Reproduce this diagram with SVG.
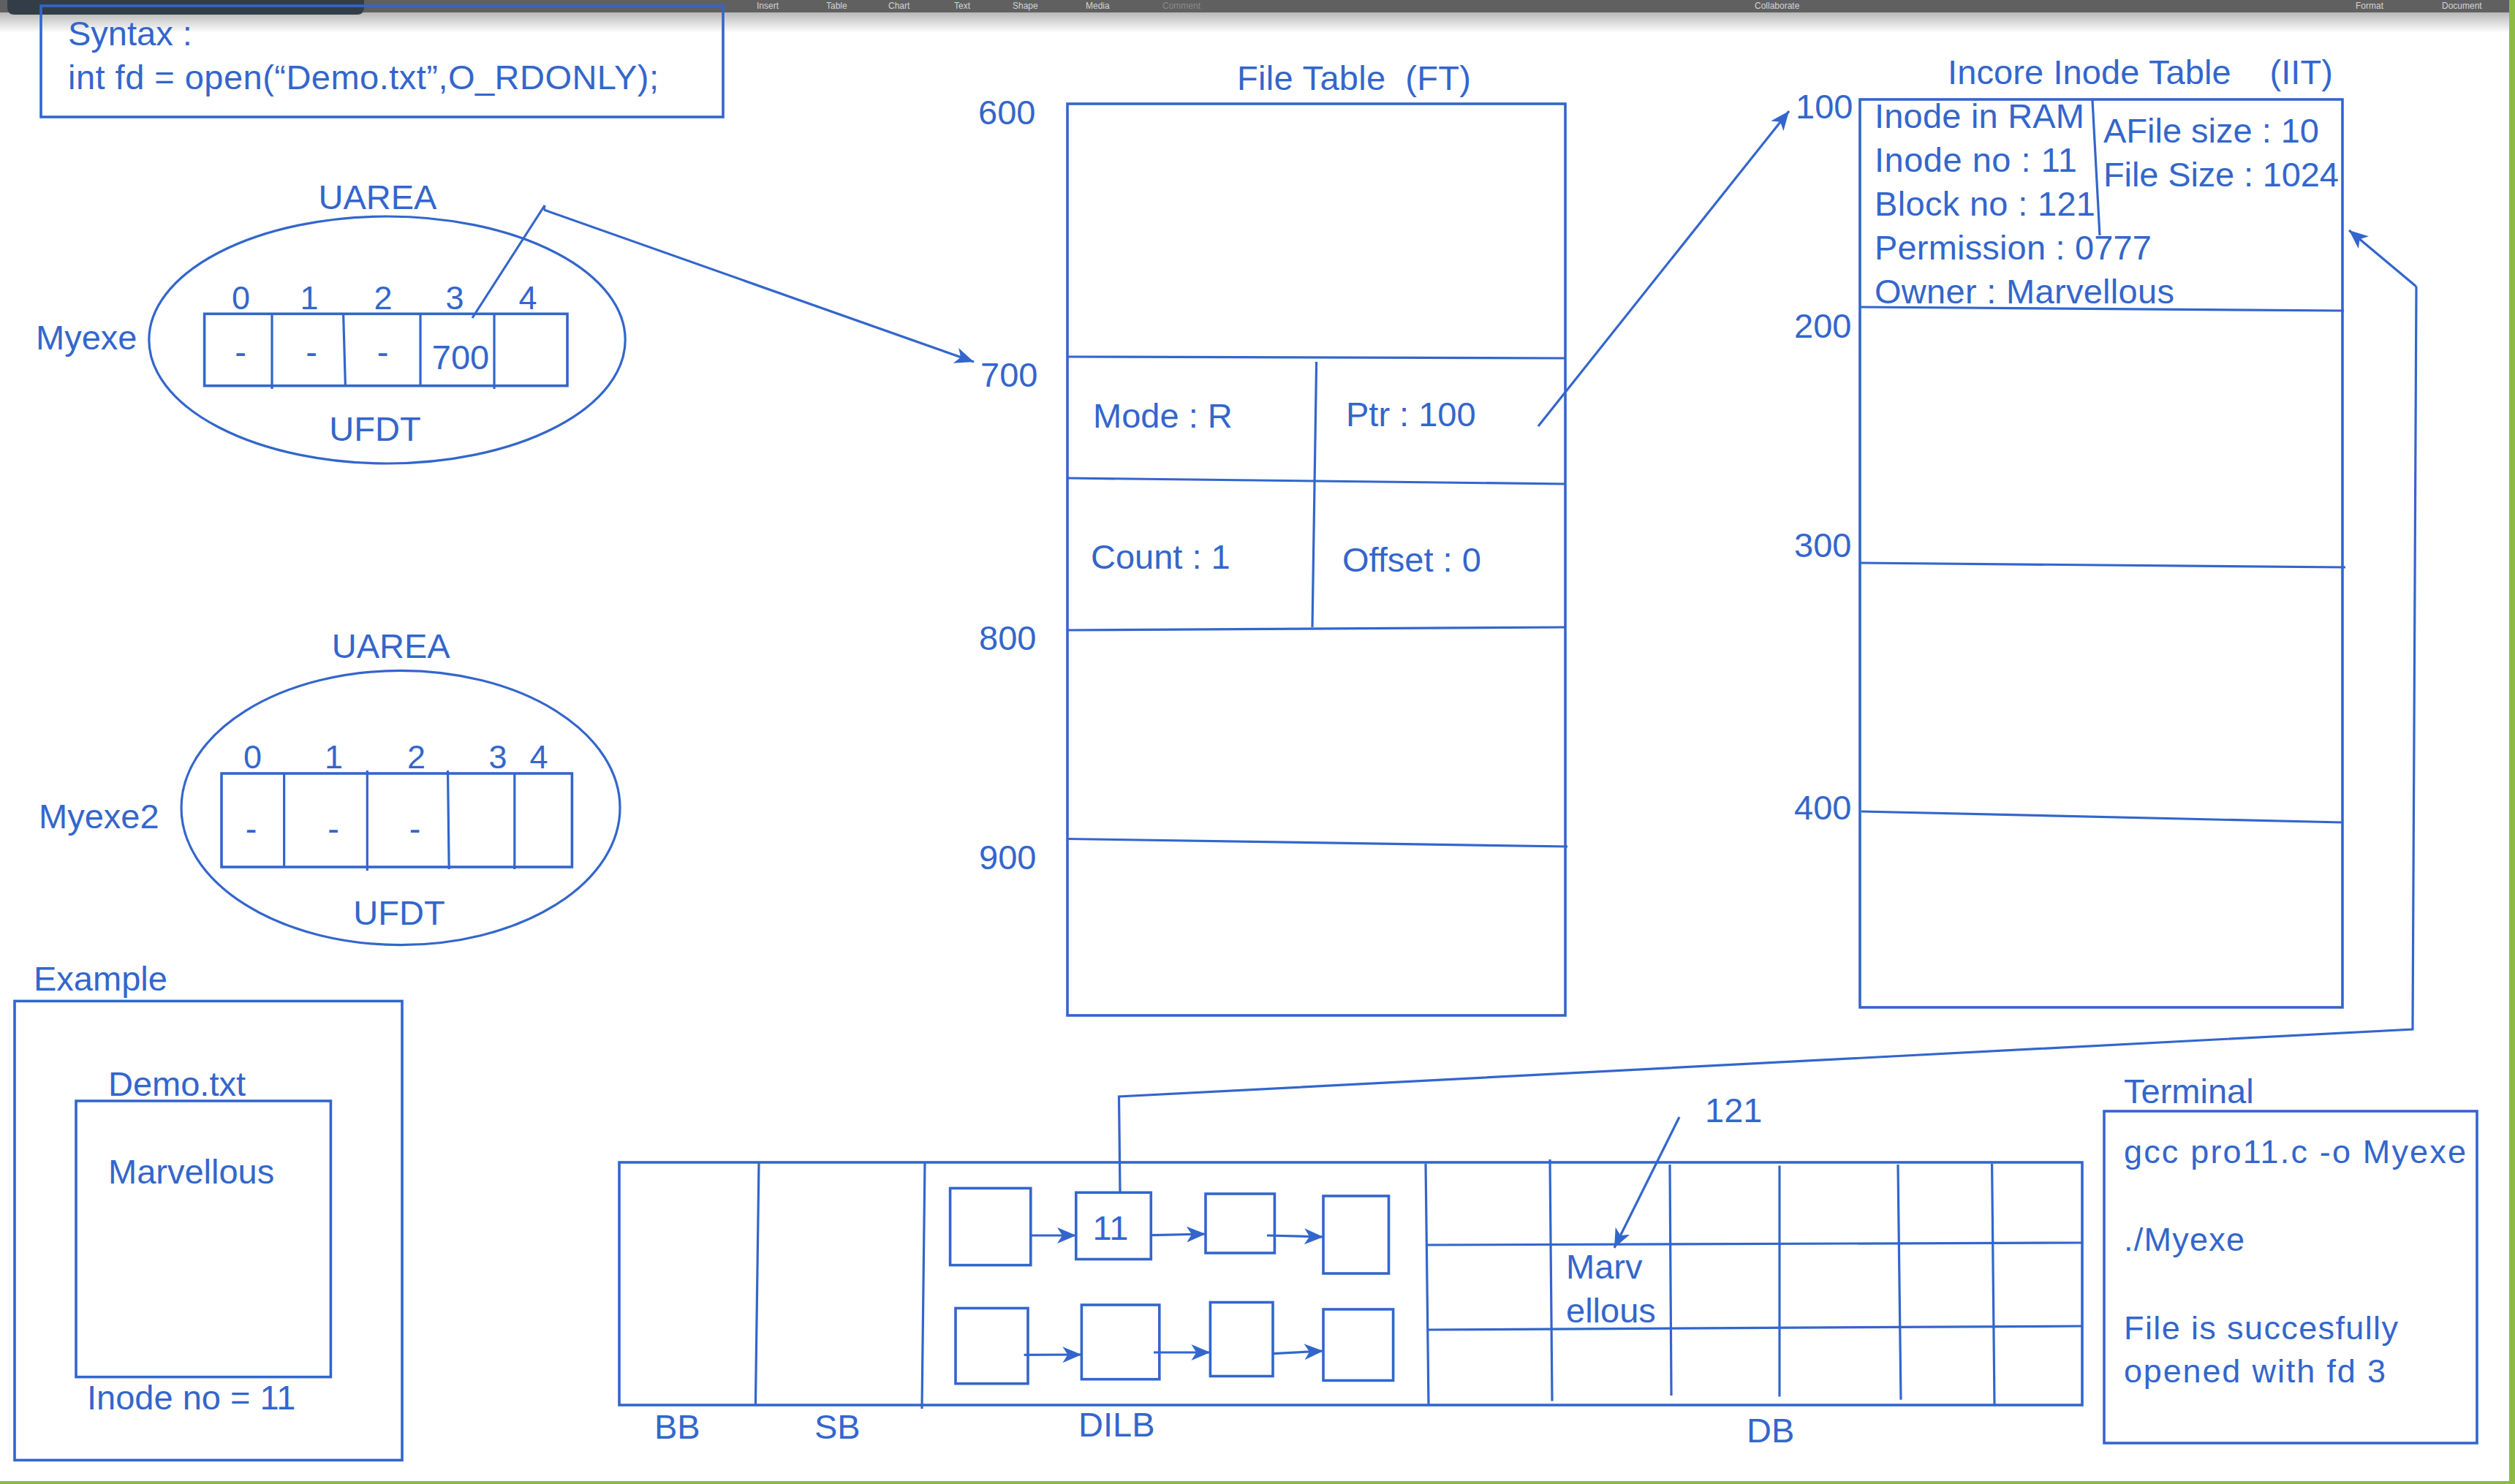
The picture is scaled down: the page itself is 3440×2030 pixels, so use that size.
<svg xmlns="http://www.w3.org/2000/svg" width="3440" height="2030" viewBox="0 0 3440 2030">
<style>
text{font-family:"Liberation Sans",Arial,Helvetica,sans-serif;fill:#3366CC;font-size:47px;white-space:pre}
.ln{stroke:#3366CC;stroke-width:3.2;fill:none}
.bx{stroke:#3366CC;stroke-width:3.6;fill:none}
.ix{font-size:45px}
.tb{font-size:12px;fill:#d4d4d4}
.term{font-size:45px}
</style>
<defs>
<marker id="ah" markerUnits="userSpaceOnUse" markerWidth="28" markerHeight="24" refX="26" refY="11" orient="auto">
<path d="M0,0 L26,11 L0,22 L7,11 z" fill="#3366CC"/>
</marker>
<linearGradient id="sh" x1="0" y1="0" x2="0" y2="1">
<stop offset="0" stop-color="#b8b8b8"/>
<stop offset="1" stop-color="#ffffff"/>
</linearGradient>
</defs>
<rect width="3440" height="2030" fill="#ffffff"/>
<g id="chrome">
<rect x="0" y="17" width="3432" height="28" fill="url(#sh)"/>
<rect x="0" y="0" width="3432" height="17" fill="#606060"/>
<path d="M10,0 H498 V10 Q498,20 488,20 H20 Q10,20 10,10 Z" fill="#333d47"/>
<text class="tb" x="1035" y="12">Insert</text>
<text class="tb" x="1130" y="12">Table</text>
<text class="tb" x="1215" y="12">Chart</text>
<text class="tb" x="1305" y="12">Text</text>
<text class="tb" x="1385" y="12">Shape</text>
<text class="tb" x="1485" y="12">Media</text>
<text class="tb" x="1590" y="12" style="fill:#8a8a8a">Comment</text>
<text class="tb" x="2400" y="12">Collaborate</text>
<text class="tb" x="3222" y="12">Format</text>
<text class="tb" x="3340" y="12">Document</text>
<rect x="3432" y="0" width="8" height="2030" fill="#8CBA44"/>
<rect x="0" y="2026" width="3440" height="4" fill="#8CBA44"/>
</g>
<g id="syntax">
<rect class="bx" x="56" y="8" width="933" height="152"/>
<text x="93" y="62">Syntax :</text>
<text x="93" y="122" textLength="808">int fd = open(“Demo.txt”,O_RDONLY);</text>
</g>
<g id="uarea1">
<text x="516.5" y="286" text-anchor="middle">UAREA</text>
<ellipse class="ln" cx="529.5" cy="465" rx="325.7" ry="169"/>
<text x="49" y="478">Myexe</text>
<rect class="bx" x="279.6" y="429.3" width="496.4" height="98.4"/>
<line class="ln" x1="372" y1="429" x2="372" y2="532"/>
<line class="ln" x1="469.6" y1="429" x2="472.4" y2="528"/>
<line class="ln" x1="575" y1="429" x2="575" y2="528"/>
<line class="ln" x1="676" y1="429" x2="676" y2="532"/>
<text class="ix" x="329.5" y="423" text-anchor="middle">0</text>
<text class="ix" x="423" y="423" text-anchor="middle">1</text>
<text class="ix" x="524" y="423" text-anchor="middle">2</text>
<text class="ix" x="622" y="423" text-anchor="middle">3</text>
<text class="ix" x="722" y="423" text-anchor="middle">4</text>
<text x="329" y="498" text-anchor="middle">-</text>
<text x="426" y="498" text-anchor="middle">-</text>
<text x="523.5" y="498" text-anchor="middle">-</text>
<text x="630" y="505" text-anchor="middle">700</text>
<text x="513" y="603" text-anchor="middle">UFDT</text>
</g>
<g id="uarea2">
<text x="534.7" y="900" text-anchor="middle">UAREA</text>
<ellipse class="ln" cx="548" cy="1105" rx="300" ry="187.6"/>
<text x="53" y="1132.5">Myexe2</text>
<rect class="bx" x="303" y="1058" width="479.4" height="128"/>
<line class="ln" x1="388.6" y1="1058" x2="388.6" y2="1186"/>
<line class="ln" x1="502.3" y1="1054" x2="502.3" y2="1191"/>
<line class="ln" x1="612.5" y1="1054" x2="614.2" y2="1189"/>
<line class="ln" x1="703.8" y1="1058" x2="703.8" y2="1189"/>
<text class="ix" x="345.5" y="1051" text-anchor="middle">0</text>
<text class="ix" x="456.5" y="1051" text-anchor="middle">1</text>
<text class="ix" x="569.5" y="1051" text-anchor="middle">2</text>
<text class="ix" x="681" y="1051" text-anchor="middle">3</text>
<text class="ix" x="737" y="1051" text-anchor="middle">4</text>
<text x="343.7" y="1150" text-anchor="middle">-</text>
<text x="456" y="1150" text-anchor="middle">-</text>
<text x="567.5" y="1150" text-anchor="middle">-</text>
<text x="546" y="1265" text-anchor="middle">UFDT</text>
</g>
<g id="example">
<text x="46" y="1355">Example</text>
<rect class="bx" x="20" y="1369.4" width="530" height="628"/>
<text x="148" y="1499">Demo.txt</text>
<rect class="bx" x="104" y="1506" width="348.4" height="377.6"/>
<text x="148" y="1618.6">Marvellous</text>
<text x="119" y="1928">Inode no = 11</text>
</g>
<g id="filetable">
<text x="1692" y="123" textLength="320">File Table  (FT)</text>
<rect class="bx" x="1460" y="142" width="681" height="1247"/>
<line class="ln" x1="1460" y1="488" x2="2141" y2="490"/>
<line class="ln" x1="1800.6" y1="495" x2="1795" y2="858"/>
<line class="ln" x1="1460" y1="654" x2="2141" y2="662"/>
<line class="ln" x1="1460" y1="862" x2="2141" y2="858"/>
<line class="ln" x1="1460" y1="1147.5" x2="2144" y2="1158"/>
<text x="1338" y="170">600</text>
<text x="1341" y="529">700</text>
<text x="1339" y="889">800</text>
<text x="1339" y="1189">900</text>
<text x="1495" y="585">Mode : R</text>
<text x="1841" y="583">Ptr : 100</text>
<text x="1492" y="778">Count : 1</text>
<text x="1836" y="782">Offset : 0</text>
</g>
<g id="iit">
<text x="2664" y="115" textLength="527">Incore Inode Table    (IIT)</text>
<rect class="bx" x="2544" y="136" width="660" height="1242"/>
<line class="ln" x1="2862" y1="137" x2="2872" y2="322"/>
<line class="ln" x1="2544" y1="420" x2="3206" y2="425"/>
<line class="ln" x1="2543" y1="770" x2="3208" y2="776"/>
<line class="ln" x1="2546" y1="1110" x2="3204" y2="1125"/>
<text x="2456" y="162">100</text>
<text x="2454" y="462">200</text>
<text x="2454" y="762">300</text>
<text x="2454" y="1121">400</text>
<text x="2564" y="175" textLength="287">Inode in RAM</text>
<text x="2564" y="235" textLength="277">Inode no : 11</text>
<text x="2564" y="295" textLength="302">Block no : 121</text>
<text x="2564" y="355" textLength="379">Permission : 0777</text>
<text x="2564" y="415" textLength="410">Owner : Marvellous</text>
<text x="2877" y="195" textLength="295">AFile size : 10</text>
<text x="2877" y="255" textLength="322">File Size : 1024</text>
</g>
<g id="disk">
<rect class="bx" x="847" y="1590" width="2001" height="332"/>
<line class="ln" x1="1038" y1="1590" x2="1033.4" y2="1922"/>
<line class="ln" x1="1265" y1="1590" x2="1261" y2="1927"/>
<line class="ln" x1="1950" y1="1592" x2="1954" y2="1922"/>
<line class="ln" x1="2120" y1="1586" x2="2123" y2="1916.5"/>
<line class="ln" x1="2284" y1="1593" x2="2286" y2="1909"/>
<line class="ln" x1="2434" y1="1594.5" x2="2434" y2="1910.5"/>
<line class="ln" x1="2596" y1="1593" x2="2600" y2="1914.7"/>
<line class="ln" x1="2724.6" y1="1592" x2="2728" y2="1921"/>
<line class="ln" x1="1952" y1="1703" x2="2848" y2="1700"/>
<line class="ln" x1="1954" y1="1819" x2="2848" y2="1814"/>
<rect class="bx" x="1299.6" y="1625.4" width="110.2" height="105.2"/>
<rect class="bx" x="1471.8" y="1631.3" width="102.5" height="91.2"/>
<rect class="bx" x="1649" y="1633" width="94.4" height="81"/>
<rect class="bx" x="1810" y="1636" width="89.5" height="106"/>
<rect class="bx" x="1307" y="1789.5" width="99" height="103.2"/>
<rect class="bx" x="1479.4" y="1785" width="106.4" height="101.7"/>
<rect class="bx" x="1655.4" y="1781.5" width="85.6" height="101"/>
<rect class="bx" x="1810" y="1791" width="95.6" height="97.4"/>
<text x="1519" y="1695.5" text-anchor="middle">11</text>
<text x="2142" y="1749">Marv</text>
<text x="2142" y="1808.5">ellous</text>
<text x="2332" y="1535">121</text>
<text x="895" y="1968">BB</text>
<text x="1114" y="1968">SB</text>
<text x="1475" y="1965">DILB</text>
<text x="2389" y="1972.6">DB</text>
</g>
<g id="terminal">
<text x="2905" y="1509">Terminal</text>
<rect class="bx" x="2878" y="1520" width="510" height="454"/>
<text class="term" x="2905" y="1591" textLength="468">gcc pro11.c -o Myexe</text>
<text class="term" x="2905" y="1711" textLength="165">./Myexe</text>
<text class="term" x="2905" y="1832" textLength="375">File is succesfully</text>
<text class="term" x="2905" y="1891" textLength="358">opened with fd 3</text>
</g>
<g id="connectors">
<polyline class="ln" points="646,435 745,281 744,287"/>
<line class="ln" x1="744" y1="287" x2="1332" y2="495" marker-end="url(#ah)"/>
<line class="ln" x1="2104" y1="583" x2="2447" y2="152" marker-end="url(#ah)"/>
<polyline class="ln" points="1532,1630 1530.5,1500 3300,1408 3305,392"/>
<line class="ln" x1="3305" y1="392" x2="3213" y2="315" marker-end="url(#ah)"/>
<line class="ln" x1="2297" y1="1528" x2="2208" y2="1707" marker-end="url(#ah)"/>
<line class="ln" x1="1409.8" y1="1690" x2="1472" y2="1690" marker-end="url(#ah)"/>
<line class="ln" x1="1574.3" y1="1689.6" x2="1649" y2="1688" marker-end="url(#ah)"/>
<line class="ln" x1="1733" y1="1690" x2="1810" y2="1692" marker-end="url(#ah)"/>
<line class="ln" x1="1400.6" y1="1853.4" x2="1479.4" y2="1853" marker-end="url(#ah)"/>
<line class="ln" x1="1578" y1="1850" x2="1655.4" y2="1850" marker-end="url(#ah)"/>
<line class="ln" x1="1741" y1="1851.6" x2="1810" y2="1848" marker-end="url(#ah)"/>
</g>
</svg>
